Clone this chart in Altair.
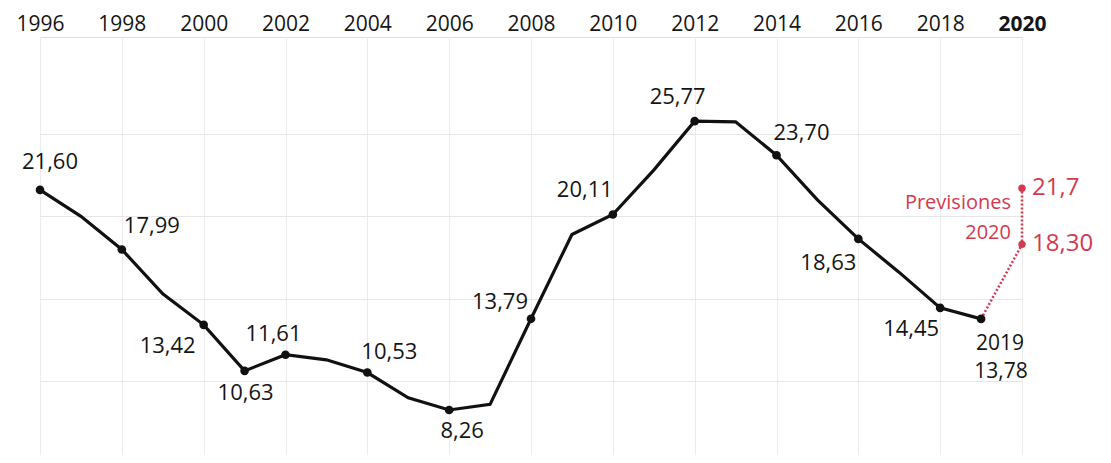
import altair as alt
import pandas as pd

# ---- data ----
years = list(range(1996, 2020))
rate = [21.60, 20.0, 17.99, 15.3, 13.42, 10.63, 11.61, 11.3, 10.53, 9.0, 8.26, 8.6,
        13.79, 18.9, 20.11, 22.8, 25.77, 25.73, 23.70, 21.0, 18.63, 16.6, 14.45, 13.78]

label_years = [1996, 1998, 2000, 2001, 2002, 2004, 2006, 2008, 2010, 2012, 2014, 2016, 2018, 2019]
label_text = ["21,60", "17,99", "13,42", "10,63", "11,61", "10,53", "8,26", "13,79",
              "20,11", "25,77", "23,70", "18,63", "14,45", "13,78"]

fc_years = [2019, 2020, 2020]
fc_values = [13.78, 18.30, 21.7]
fc_points_years = [2020, 2020]
fc_points_values = [18.30, 21.7]
fc_labels = ["18,30", "21,7"]

tick_years = list(range(1996, 2021, 2))
grid_values = [10, 15, 20, 25]

# ---- styles / placement (not data) ----
FONT = "Open Sans"
RED = "#d23a4f"
INK = "#151515"
label_offsets = {  # year: (dx, dy)
    1996: (10, -28), 1998: (30, -23), 2000: (-36, 21), 2001: (1, 22), 2002: (-12, -21),
    2004: (22, -21), 2006: (13, 21), 2008: (-31, -17), 2010: (-28, -24), 2012: (-17, -24),
    2014: (25, -22), 2016: (-30, 24), 2018: (-29, 21), 2019: (20, 53),
}

val_lookup = dict(zip(years, rate))
df = pd.DataFrame({"year": years, "rate": rate})
df_fc = pd.DataFrame({"year": fc_years, "rate": fc_values, "order": list(range(len(fc_years)))})
df_fcp = pd.DataFrame({"year": fc_points_years, "rate": fc_points_values, "label": fc_labels})
df_pts = pd.DataFrame({"year": label_years, "rate": [val_lookup[y] for y in label_years],
                       "label": label_text})

x_enc = alt.X(
    "year:Q",
    scale=alt.Scale(domain=[1996, 2020], nice=False, zero=False),
    axis=alt.Axis(
        orient="top", values=tick_years, format="d", title=None, domain=False, ticks=False,
        labelFont=FONT, labelFontSize=21, labelColor=INK, labelPadding=3,
        labelFontWeight=alt.ExprRef("datum.value == 2020 ? 'bold' : 'normal'"),
        grid=True, gridColor="#ececec", gridWidth=1, labelFlush=False,
    ),
)
y_enc = alt.Y(
    "rate:Q",
    scale=alt.Scale(domain=[5.53, 30.87], nice=False, zero=False),
    axis=alt.Axis(values=grid_values, labels=False, ticks=False, domain=False, title=None,
                  grid=True, gridColor="#e6e6e6", gridWidth=1),
)

line = alt.Chart(df).mark_line(color="#111111", strokeWidth=3.2).encode(x=x_enc, y=y_enc)
pts = alt.Chart(df_pts).mark_point(filled=True, color="#111111", size=75, opacity=1).encode(x=x_enc, y=y_enc)

fc_line = alt.Chart(df_fc).mark_line(color=RED, strokeWidth=2.5, strokeDash=[2, 2]).encode(
    x=x_enc, y=y_enc, order="order:Q")
fc_pts = alt.Chart(df_fcp).mark_point(filled=True, color=RED, size=55, opacity=1).encode(x=x_enc, y=y_enc)
fc_txt = alt.Chart(df_fcp).mark_text(align="left", baseline="middle", dx=10, font=FONT,
                                     fontSize=24, color=RED).encode(x=x_enc, y=y_enc, text="label:N")

layers = [line, fc_line, pts, fc_pts, fc_txt]
for yr, txt in zip(label_years, label_text):
    dx, dy = label_offsets[yr]
    sub = df_pts[df_pts["year"] == yr]
    fs = 21 if yr == 2019 else 22
    layers.append(
        alt.Chart(sub).mark_text(align="center", baseline="middle", dx=dx, dy=dy, font=FONT,
                                 fontSize=fs, color=INK).encode(x=x_enc, y=y_enc, text="label:N")
    )

# "2019" year tag under last point
sub19 = df_pts[df_pts["year"] == 2019]
layers.append(
    alt.Chart(sub19).mark_text(align="center", baseline="middle", dx=19, dy=25, font=FONT,
                               fontSize=21, color=INK).encode(x=x_enc, y=y_enc, text=alt.value("2019"))
)

# "Previsiones 2020" annotation
top_fc = df_fcp[df_fcp["rate"] == max(fc_points_values)]
low_fc = df_fcp[df_fcp["rate"] == min(fc_points_values)]
layers.append(
    alt.Chart(top_fc).mark_text(align="right", baseline="middle", dx=-11, dy=15, font=FONT,
                                fontSize=20, color=RED).encode(x=x_enc, y=y_enc, text=alt.value("Previsiones"))
)
layers.append(
    alt.Chart(low_fc).mark_text(align="right", baseline="middle", dx=-11, dy=-11, font=FONT,
                                fontSize=20, color=RED).encode(x=x_enc, y=y_enc, text=alt.value("2020"))
)

chart = alt.layer(*layers).properties(
    width=982, height=418, autosize="none",
    padding={"left": 32, "top": 29, "right": 81, "bottom": 0},
).configure_view(stroke=None).configure(background="white")

chart.save("out.html", embed_options={"renderer": "svg", "actions": False})
